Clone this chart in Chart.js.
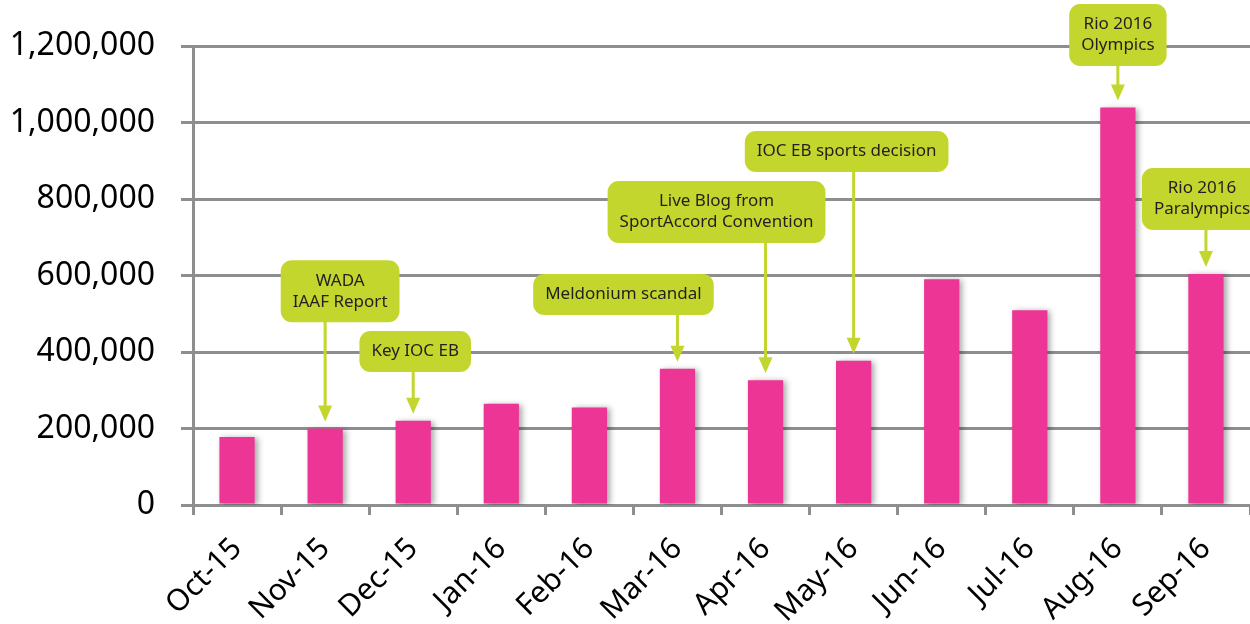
<!DOCTYPE html>
<html>
<head>
<meta charset="utf-8">
<script src="https://cdn.jsdelivr.net/npm/chart.js@4.4.1/dist/chart.umd.min.js"></script>
<style>
  html, body { margin: 0; padding: 0; background: #fff; }
  canvas { display: block; }
</style>
</head>
<body>
<canvas id="chart" width="1250" height="624"></canvas>
<script>
// chart data
const months = ["Oct-15", "Nov-15", "Dec-15", "Jan-16", "Feb-16", "Mar-16",
                "Apr-16", "May-16", "Jun-16", "Jul-16", "Aug-16", "Sep-16"];
const visits = [178000, 200000, 220000, 265000, 255000, 356000,
                326000, 377000, 590000, 509000, 1039000, 604000];
const yTicks = [0, 200000, 400000, 600000, 800000, 1000000, 1200000];

// callouts: which bar, what text, and where the box top sits (in axis units)
const calloutIndex = [1, 2, 5, 6, 7, 10, 11];
const calloutText = [
    ["WADA", "IAAF Report"],
    ["Key IOC EB"],
    ["Meldonium scandal"],
    ["Live Blog from", "SportAccord Convention"],
    ["IOC EB sports decision"],
    ["Rio 2016", "Olympics"],
    ["Rio 2016", "Paralympics"],
];
const calloutTop = [640000, 455000, 604000, 847000, 978000, 1310000, 881000];
const calloutShift = [15, 2, -54, -49, -7, 0, -4];

const GRID = "#8c8e90";
const PINK = "#ec3594";
const LIME = "#c3d62e";

const barShadow = {
    id: "barShadow",
    beforeDatasetDraw(chart) {
        const ctx = chart.ctx;
        ctx.save();
        ctx.shadowColor = "rgba(0,0,0,0.35)";
        ctx.shadowBlur = 6;
        ctx.shadowOffsetX = 3;
        ctx.shadowOffsetY = 1;
    },
    afterDatasetDraw(chart) {
        chart.ctx.restore();
    },
};

const roundRect = (ctx, x, y, w, h, r) => {
    ctx.beginPath();
    ctx.moveTo(x + r, y);
    ctx.arcTo(x + w, y, x + w, y + h, r);
    ctx.arcTo(x + w, y + h, x, y + h, r);
    ctx.arcTo(x, y + h, x, y, r);
    ctx.arcTo(x, y, x + w, y, r);
    ctx.closePath();
};

const callouts = {
    id: "callouts",
    afterDatasetsDraw(chart) {
        const ctx = chart.ctx;
        const yScale = chart.scales.y;
        const meta = chart.getDatasetMeta(0);
        const lineH = 21;
        const padX = 12;
        const padY = 10;

        ctx.save();
        ctx.font = "17px 'Noto Sans'";
        calloutIndex.forEach((idx, i) => {
            const bar = meta.data[idx];
            const lines = calloutText[i];
            const textW = Math.max(...lines.map((t) => ctx.measureText(t).width));
            const w = textW + padX * 2;
            const h = lines.length * lineH + padY * 2;
            const cx = bar.x + calloutShift[i];
            const top = yScale.getPixelForValue(calloutTop[i]);

            // arrow
            const tipY = bar.y - 7;
            ctx.strokeStyle = LIME;
            ctx.fillStyle = LIME;
            ctx.lineWidth = 3;
            ctx.beginPath();
            ctx.moveTo(bar.x, top + h - 2);
            ctx.lineTo(bar.x, tipY - 10);
            ctx.stroke();
            ctx.beginPath();
            ctx.moveTo(bar.x - 7, tipY - 16);
            ctx.lineTo(bar.x + 7, tipY - 16);
            ctx.lineTo(bar.x, tipY);
            ctx.closePath();
            ctx.fill();

            // box
            roundRect(ctx, cx - w / 2, top, w, h, 11);
            ctx.fill();

            // text
            ctx.fillStyle = "#231f20";
            ctx.textAlign = "center";
            ctx.textBaseline = "middle";
            lines.forEach((t, j) => {
                ctx.fillText(t, cx, top + padY + lineH * (j + 0.5));
            });
        });
        ctx.restore();
    },
};

new Chart(document.getElementById("chart"), {
    type: "bar",
    data: {
        labels: months,
        datasets: [
            {
                data: visits,
                backgroundColor: PINK,
                borderWidth: 0,
                barPercentage: 0.4,
                categoryPercentage: 1,
            },
        ],
    },
    options: {
        responsive: false,
        animation: false,
        layout: { padding: { top: 46, left: 0, right: 0, bottom: 0 } },
        plugins: {
            legend: { display: false },
            tooltip: { enabled: false },
        },
        scales: {
            x: {
                offset: true,
                grid: {
                    offset: true,
                    drawOnChartArea: false,
                    drawTicks: true,
                    tickLength: 10,
                    lineWidth: 3,
                    color: GRID,
                },
                border: { display: true, color: GRID, width: 3 },
                ticks: {
                    autoSkip: false,
                    maxRotation: 45,
                    minRotation: 45,
                    padding: 16,
                    color: "#000",
                    font: { family: "'Noto Sans'", size: 30 },
                },
                afterFit: (scale) => { scale.height = 119; },
            },
            y: {
                min: 0,
                max: 1200000,
                afterBuildTicks: (scale) => {
                    scale.ticks = yTicks.map((v) => ({ value: v }));
                },
                grid: {
                    drawTicks: true,
                    tickLength: 12,
                    lineWidth: 3,
                    color: GRID,
                },
                border: { display: true, color: GRID, width: 3 },
                ticks: {
                    padding: 26,
                    color: "#000",
                    font: { family: "'Noto Sans'", size: 32 },
                    callback: (v) => Number(v).toLocaleString("en-US"),
                },
                afterFit: (scale) => { scale.width = 193; },
            },
        },
    },
    plugins: [barShadow, callouts],
});
</script>
</body>
</html>
